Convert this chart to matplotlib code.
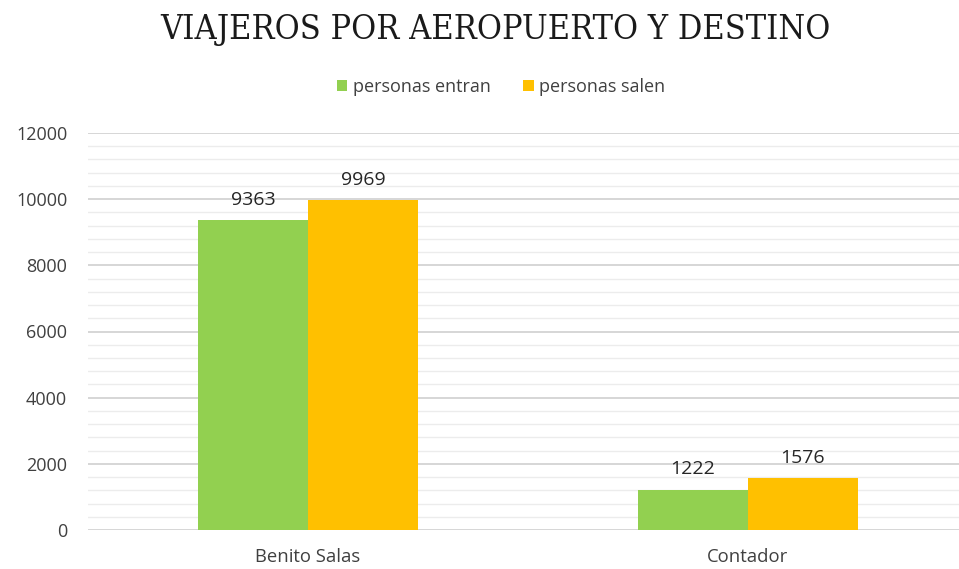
import numpy as np
import matplotlib
matplotlib.use("Agg")
from matplotlib import pyplot as plt
from matplotlib.ticker import MultipleLocator

# Data
categories = ["Benito Salas", "Contador"]
entran = [9363, 1222]
salen = [9969, 1576]
series_names = ["personas entran", "personas salen"]
colors = ["#92D050", "#FFC000"]

W, H = 959, 569
fig = plt.figure(figsize=(W / 100, H / 100), dpi=100)
# axes spans from x=88 px to past the right edge, y from 530 to 133 px
left, right = 88, 968
bottom, top = 530, 133
ax = fig.add_axes([left / W, (H - bottom) / H, (right - left) / W, (bottom - top) / H])

x = np.arange(len(categories))
bw = 0.25
b1 = ax.bar(x - bw / 2, entran, bw, color=colors[0], label=series_names[0])
b2 = ax.bar(x + bw / 2, salen, bw, color=colors[1], label=series_names[1])

for bars in (b1, b2):
    for rect in bars:
        ax.annotate(f"{int(rect.get_height())}",
                    (rect.get_x() + rect.get_width() / 2, rect.get_height()),
                    xytext=(0, 8), textcoords="offset points",
                    ha="center", va="bottom", fontsize=14, family="Open Sans", color="#262626")

ax.set_xlim(-0.5, 1.5)
ax.set_ylim(0, 12000)
ax.yaxis.set_major_locator(MultipleLocator(2000))
ax.yaxis.set_minor_locator(MultipleLocator(400))
ax.grid(axis="y", which="major", color="#d0d0d0", linewidth=1.2)
ax.grid(axis="y", which="minor", color="#ececec", linewidth=1.0)
ax.set_axisbelow(True)
for s in ax.spines.values():
    s.set_visible(False)
ax.set_xticks(x)
ax.set_xticklabels(categories)
ax.tick_params(axis="both", which="both", length=0)
ax.tick_params(axis="y", pad=15, labelsize=13, labelcolor="#404040")
ax.tick_params(axis="x", pad=13, labelsize=13.3, labelcolor="#404040")
for lbl in ax.get_xticklabels() + ax.get_yticklabels():
    lbl.set_family("Open Sans")

fig.text(495 / W, 1 - 30 / H, "VIAJEROS POR AEROPUERTO Y DESTINO",
         ha="center", va="center", fontsize=24.5, family="DejaVu Serif",
         fontstretch="condensed", color="#1a1a1a")

fig.legend(loc="center", bbox_to_anchor=(501 / W, 1 - 87 / H), ncol=2, frameon=False,
           prop={"family": "Open Sans", "size": 13}, handlelength=0.6, handleheight=0.6,
           handletextpad=0.3, columnspacing=1.8, labelcolor="#404040")

fig.savefig("out.png", dpi=100)
